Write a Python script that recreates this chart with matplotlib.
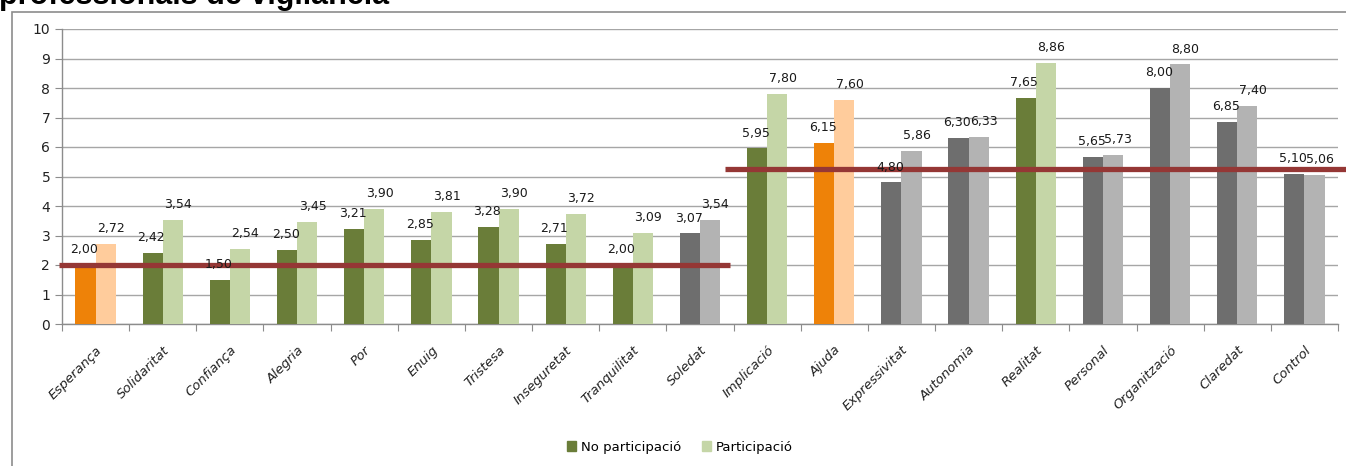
import matplotlib
matplotlib.use("Agg")
import matplotlib.pyplot as plt
from matplotlib.patches import Rectangle, Patch
import numpy as np

categories = ["Esperança", "Solidaritat", "Confiança", "Alegria", "Por", "Enuig",
              "Tristesa", "Inseguretat", "Tranquilitat", "Soledat", "Implicació",
              "Ajuda", "Expressivitat", "Autonomia", "Realitat", "Personal",
              "Organització", "Claredat", "Control"]
no_particip = [2.00, 2.42, 1.50, 2.50, 3.21, 2.85, 3.28, 2.71, 2.00, 3.07,
               5.95, 6.15, 4.80, 6.30, 7.65, 5.65, 8.00, 6.85, 5.10]
particip = [2.72, 3.54, 2.54, 3.45, 3.90, 3.81, 3.90, 3.72, 3.09, 3.54,
            7.80, 7.60, 5.86, 6.33, 8.86, 5.73, 8.80, 7.40, 5.06]
groups = ["orange", "green", "green", "green", "green", "green", "green", "green",
          "green", "gray", "green", "orange", "gray", "gray", "green", "gray",
          "gray", "gray", "gray"]
ref_lines = [(2.0, -0.55, 9.44), (5.25, 9.37, 18.62)]
series_names = ["No participació", "Participació"]

palette = {
    "orange": ("#EE8208", "#FFCC9C"),
    "green": ("#6A7D39", "#C5D6A7"),
    "gray": ("#6E6E6E", "#B3B3B3"),
}

W, H = 1346, 466
fig = plt.figure(figsize=(W / 100, H / 100), dpi=100)
fig.patch.set_facecolor("white")

# outer border
fig.patches.append(Rectangle((12 / W, -0.1), 1.2, 1 - 12 / H + 0.1,
                             transform=fig.transFigure, fill=False,
                             edgecolor="#8C8C8C", linewidth=1.2))
fig.text(-1 / W, 1 - 4 / H, "professionals de vigilància", fontsize=22,
         fontweight="bold", family="Liberation Sans", ha="left", va="baseline")

ax = fig.add_axes([62 / W, 1 - 324 / H, (1338 - 62) / W, (324 - 29) / H])
x = np.arange(len(categories))
bw = 0.3
c_dark = [palette[g][0] for g in groups]
c_light = [palette[g][1] for g in groups]
ax.bar(x - bw / 2, no_particip, bw, color=c_dark, zorder=3)
ax.bar(x + bw / 2, particip, bw, color=c_light, zorder=3)

lab_font = dict(fontsize=9, family="DejaVu Sans", color="#1a1a1a")
for i in range(len(categories)):
    ax.text(x[i] - bw / 2 - 0.02, no_particip[i] + 0.3, f"{no_particip[i]:.2f}".replace(".", ","),
            ha="center", va="bottom", zorder=5, **lab_font)
    ax.text(x[i] + bw / 2 + 0.08, particip[i] + 0.3, f"{particip[i]:.2f}".replace(".", ","),
            ha="center", va="bottom", zorder=5, **lab_font)

for y, x0, x1 in ref_lines:
    ax.plot([x0, x1], [y, y], color="#953735", linewidth=3.8, zorder=4,
            clip_on=False, solid_capstyle="butt")

ax.set_xlim(-0.5, len(categories) - 0.5)
ax.set_ylim(0, 10)
ax.set_yticks(range(0, 11))
ax.tick_params(axis="y", labelsize=10, colors="#8C8C8C", labelcolor="#222222",
               length=5, direction="out")
ax.set_xticks(np.arange(-0.5, len(categories), 1.0))
ax.set_xticklabels([])
ax.set_xticks(x, minor=True)
ax.set_xticklabels(categories, minor=True, rotation=45, ha="right",
                   rotation_mode="anchor", fontsize=9.5, style="italic",
                   family="DejaVu Sans")
ax.tick_params(axis="x", which="major", length=5, colors="#8C8C8C", direction="out")
ax.tick_params(axis="x", which="minor", length=0, pad=14, labelcolor="#222222")
ax.grid(axis="y", color="#A6A6A6", linewidth=1.0, zorder=0)
ax.set_axisbelow(True)
for s in ["top", "right"]:
    ax.spines[s].set_visible(False)
for s in ["left", "bottom"]:
    ax.spines[s].set_color("#8C8C8C")
    ax.spines[s].set_linewidth(1.0)

handles = [Patch(color=palette["green"][0], label=series_names[0]),
           Patch(color=palette["green"][1], label=series_names[1])]
fig.legend(handles=handles, loc="center", bbox_to_anchor=(680 / W, 1 - 447 / H),
           ncol=2, frameon=False, fontsize=9.5, handlelength=0.7, handleheight=0.7,
           handletextpad=0.4, columnspacing=1.5)

fig.savefig("out.png", dpi=100)
